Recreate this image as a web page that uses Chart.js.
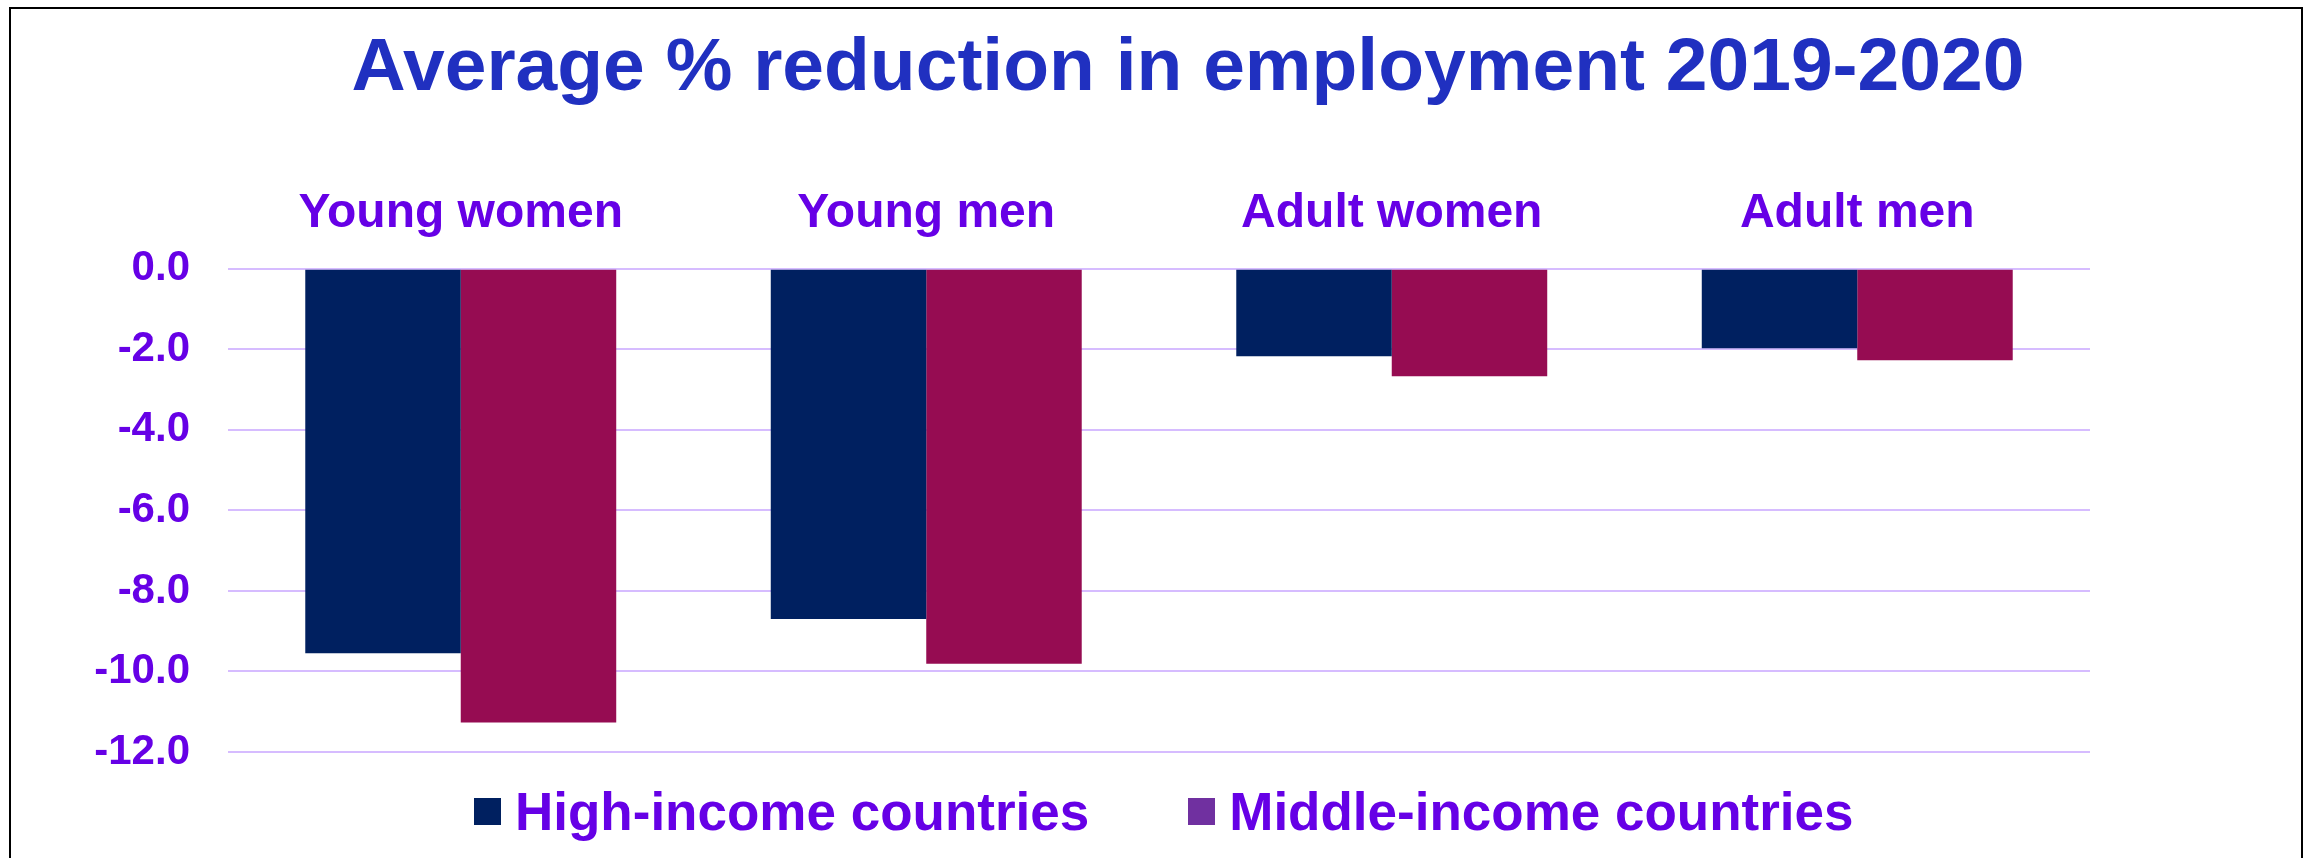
<!DOCTYPE html>
<html>
<head>
<meta charset="utf-8">
<script src="https://cdn.jsdelivr.net/npm/chart.js@4/dist/chart.umd.min.js"></script>
<style>
  html, body { margin: 0; padding: 0; background: #fff; overflow: hidden; }
  body { width: 2310px; height: 858px; position: relative; font-family: "Liberation Sans", Arial, sans-serif; }
  #chart { position: absolute; left: 0; top: 0; }
  .frame { position: absolute; left: 9px; top: 7px; width: 2294px; height: 900px; box-sizing: border-box; border: 2px solid #000; pointer-events: none; }
  #legend { position: absolute; left: 474px; top: 785px; display: flex; align-items: center; gap: 99px; font-weight: bold; font-size: 53px; line-height: 53px; color: #6600e6; white-space: nowrap; }
  #legend .item { display: flex; align-items: center; }
  #legend i { display: inline-block; width: 27px; height: 27px; margin-right: 14px; }
</style>
</head>
<body>
<canvas id="chart" width="2310" height="858"></canvas>
<div id="legend"></div>
<div class="frame"></div>
<script>
const categories = ["Young women", "Young men", "Adult women", "Adult men"];
const seriesNames = ["High-income countries", "Middle-income countries"];
const highIncome = [-9.55, -8.7, -2.17, -1.97];
const middleIncome = [-11.27, -9.81, -2.67, -2.27];
const yMin = -12;
const yMax = 0;
const yStep = 2;

const barColors = ["#002060", "#960c52"];
const legendColors = ["#002060", "#7030a0"];
const textColor = "#6600e6";
const font = "'Liberation Sans', Arial, sans-serif";

// legend is drawn as html so item spacing can match the original
const htmlLegend = {
  id: "htmlLegend",
  afterUpdate(chart) {
    document.getElementById("legend").innerHTML = chart.data.datasets
      .map((ds, i) => `<span class="item"><i style="background:${legendColors[i]}"></i>${ds.label}</span>`)
      .join("");
  }
};

new Chart(document.getElementById("chart"), {
  type: "bar",
  data: {
    labels: categories,
    datasets: [
      { label: seriesNames[0], data: highIncome, backgroundColor: barColors[0] },
      { label: seriesNames[1], data: middleIncome, backgroundColor: barColors[1] }
    ]
  },
  options: {
    responsive: false,
    animation: false,
    layout: { padding: { left: 66, right: 0, top: 0, bottom: 106 } },
    datasets: { bar: { barPercentage: 1, categoryPercentage: 0.668 } },
    plugins: {
      legend: { display: false },
      tooltip: { enabled: false },
      title: {
        display: true,
        text: "Average % reduction in employment 2019-2020",
        color: "#2030c0",
        font: { family: font, size: 75, weight: "bold", lineHeight: 1.2 },
        padding: { top: 24, bottom: 0 }
      }
    },
    scales: {
      x: {
        position: "top",
        grid: { display: false, drawTicks: false },
        border: { display: false },
        ticks: { color: textColor, padding: 26, font: { family: font, size: 48, weight: "bold" } },
        afterFit: (s) => { s.height = 154.8; }
      },
      y: {
        min: yMin,
        max: yMax,
        grid: { color: "#d6bcff", lineWidth: 2, drawTicks: false },
        border: { display: false },
        ticks: {
          stepSize: yStep,
          padding: 38,
          color: textColor,
          font: { family: font, size: 42, weight: "bold" },
          callback: (v) => v.toFixed(1)
        },
        afterFit: (s) => { s.width = 162; }
      },
      pad: {
        position: "right",
        grid: { display: false },
        border: { display: false },
        ticks: { display: false },
        afterFit: (s) => { s.width = 220; }
      }
    }
  },
  plugins: [htmlLegend]
});
</script>
</body>
</html>
